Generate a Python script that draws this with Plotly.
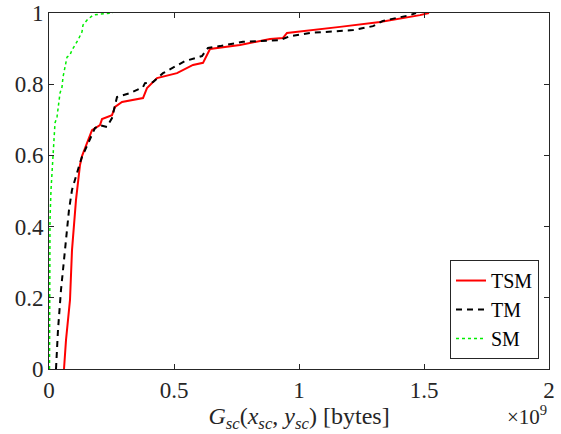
import plotly.graph_objects as go

# Values in units of 1e9 bytes (x) and CDF (y)
tsm_x = [0.060, 0.068, 0.084, 0.092, 0.108, 0.124, 0.132, 0.148, 0.172, 0.204, 0.212, 0.252, 0.264, 0.292,
         0.376, 0.392, 0.432, 0.512, 0.576, 0.616, 0.644, 0.764, 0.884, 0.936, 0.952, 1.164, 1.324, 1.484, 1.520]
tsm_y = [0.000, 0.081, 0.194, 0.334, 0.475, 0.573, 0.598, 0.629, 0.671, 0.685, 0.702, 0.713, 0.736, 0.750,
         0.761, 0.789, 0.817, 0.831, 0.854, 0.860, 0.899, 0.910, 0.927, 0.930, 0.944, 0.961, 0.975, 0.994, 1.000]

tm_x = [0.028, 0.036, 0.048, 0.060, 0.068, 0.080, 0.092, 0.108, 0.124, 0.132, 0.164, 0.184, 0.204, 0.232,
        0.252, 0.264, 0.272, 0.324, 0.376, 0.384, 0.416, 0.456, 0.544, 0.612, 0.636, 0.684, 0.776, 0.924,
        0.964, 1.044, 1.216, 1.296, 1.336, 1.444, 1.468]
tm_y = [0.000, 0.110, 0.222, 0.306, 0.343, 0.447, 0.503, 0.545, 0.579, 0.596, 0.643, 0.677, 0.685, 0.680,
        0.705, 0.742, 0.764, 0.775, 0.792, 0.803, 0.806, 0.831, 0.865, 0.879, 0.902, 0.907, 0.919, 0.924,
        0.935, 0.944, 0.952, 0.963, 0.978, 0.994, 1.000]

sm_x = [0.002, 0.004, 0.004, 0.008, 0.016, 0.024, 0.032, 0.036, 0.044, 0.052, 0.056, 0.072, 0.084, 0.092,
        0.116, 0.132, 0.136, 0.152, 0.176, 0.204, 0.256]
sm_y = [0.000, 0.194, 0.419, 0.503, 0.598, 0.691, 0.708, 0.736, 0.775, 0.792, 0.820, 0.876, 0.882, 0.896,
        0.924, 0.947, 0.966, 0.980, 0.994, 0.997, 1.000]

x_ticks = [0, 0.5, 1, 1.5, 2]
x_ticklabels = ["0", "0.5", "1", "1.5", "2"]
y_ticks = [0, 0.2, 0.4, 0.6, 0.8, 1]
y_ticklabels = ["0", "0.2", "0.4", "0.6", "0.8", "1"]

FONT = "Liberation Serif, DejaVu Serif"
AX = "#262626"

fig = go.Figure()
fig.add_trace(go.Scatter(x=tsm_x, y=tsm_y, mode="lines", name="TSM",
                         line=dict(color="#ff0000", width=2)))
fig.add_trace(go.Scatter(x=tm_x, y=tm_y, mode="lines", name="TM",
                         line=dict(color="#000000", width=2, dash="6px,5px")))
fig.add_trace(go.Scatter(x=sm_x, y=sm_y, mode="lines", name="SM",
                         line=dict(color="#00ee00", width=1.5, dash="dot")))

axis_common = dict(showgrid=False, zeroline=False, showline=True, linecolor=AX, linewidth=1,
                   mirror="ticks", ticks="inside", ticklen=5, tickcolor=AX,
                   tickfont=dict(family=FONT, size=23, color="#262626"))

fig.update_layout(
    width=561, height=434,
    margin=dict(l=49, r=12, t=13, b=65, autoexpand=False),
    paper_bgcolor="white", plot_bgcolor="white",
    font=dict(family=FONT, color="#262626"),
    xaxis=dict(range=[0, 2], tickvals=x_ticks, ticktext=x_ticklabels,
               title=dict(text="<i>G</i><sub><i>sc</i></sub>(<i>x</i><sub><i>sc</i></sub>, <i>y</i><sub><i>sc</i></sub>) [bytes]",
                          font=dict(family=FONT, size=24, color="#262626"), standoff=0),
               **axis_common),
    yaxis=dict(range=[0, 1], tickvals=y_ticks, ticktext=y_ticklabels, **axis_common),
    legend=dict(x=0.98, y=0.028, xanchor="right", yanchor="bottom",
                bgcolor="white", bordercolor=AX, borderwidth=1,
                font=dict(family=FONT, size=20, color="#000000"),
                itemwidth=30, tracegroupgap=0),
    showlegend=True,
    annotations=[dict(text="×10<sup>9</sup>", x=1.0, y=-0.13, xref="paper", yref="paper",
                      xanchor="right", yanchor="middle", showarrow=False,
                      font=dict(family=FONT, size=21, color="#262626"))],
)

fig.write_html("out.html")
